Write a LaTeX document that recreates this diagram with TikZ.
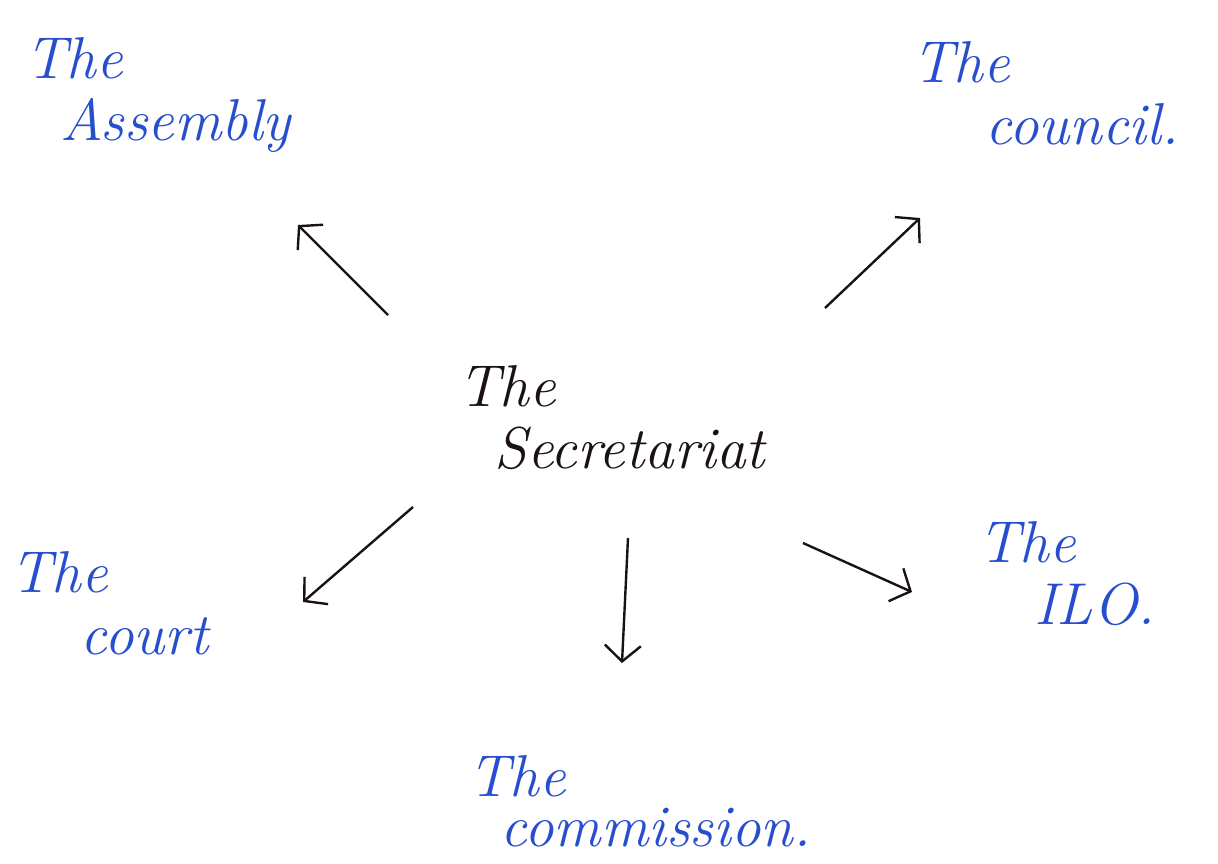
\documentclass[tikz,border=0pt]{standalone}
\usetikzlibrary{arrows.meta}
\definecolor{inkblue}{RGB}{38,78,205}
\definecolor{inkblack}{RGB}{25,18,15}
\tikzset{
  lbl/.style={anchor=north west,inner sep=0pt,align=left,font=\fontsize{42}{44}\selectfont\itshape},
  arr/.style={line width=1.7pt,inkblack,-{Straight Barb[length=4mm,width=9mm]}}
}
\begin{document}
\begin{tikzpicture}[x=0.025cm,y=-0.025cm]%diagram
\useasboundingbox (0,0) rectangle (1218,863);
\node[lbl,inkblack] (sec) at (458,365){The\\\hspace*{26pt}Secretariat};
\node[lbl,inkblue] (asm) at (25,37){The\\\hspace*{25pt}Assembly};
\node[lbl,inkblue] (cnl) at (912,41){The\\\hspace*{52pt}council.};
\node[lbl,inkblue] (crt) at (10,551){The\\\hspace*{50pt}court};
\node[lbl,inkblue] (ilo) at (978,521){The\\\hspace*{40pt}ILO.};
\node[lbl,inkblue] (com) at (468,755){The\\[-8pt]\hspace*{23pt}commission.};
\coordinate (s1) at (388,315);
\coordinate (s2) at (825,308);
\coordinate (s3) at (413,507);
\coordinate (s4) at (628,538);
\coordinate (s5) at (803,543);
\coordinate (e1) at (298,225);
\coordinate (e2) at (920,218);
\coordinate (e3) at (303,602);
\coordinate (e4) at (622,663);
\coordinate (e5) at (912,592);
\draw[arr] (s1) -- (e1);
\draw[arr] (s2) -- (e2);
\draw[arr] (s3) -- (e3);
\draw[arr] (s4) -- (e4);
\draw[arr] (s5) -- (e5);
\end{tikzpicture}
\end{document}
